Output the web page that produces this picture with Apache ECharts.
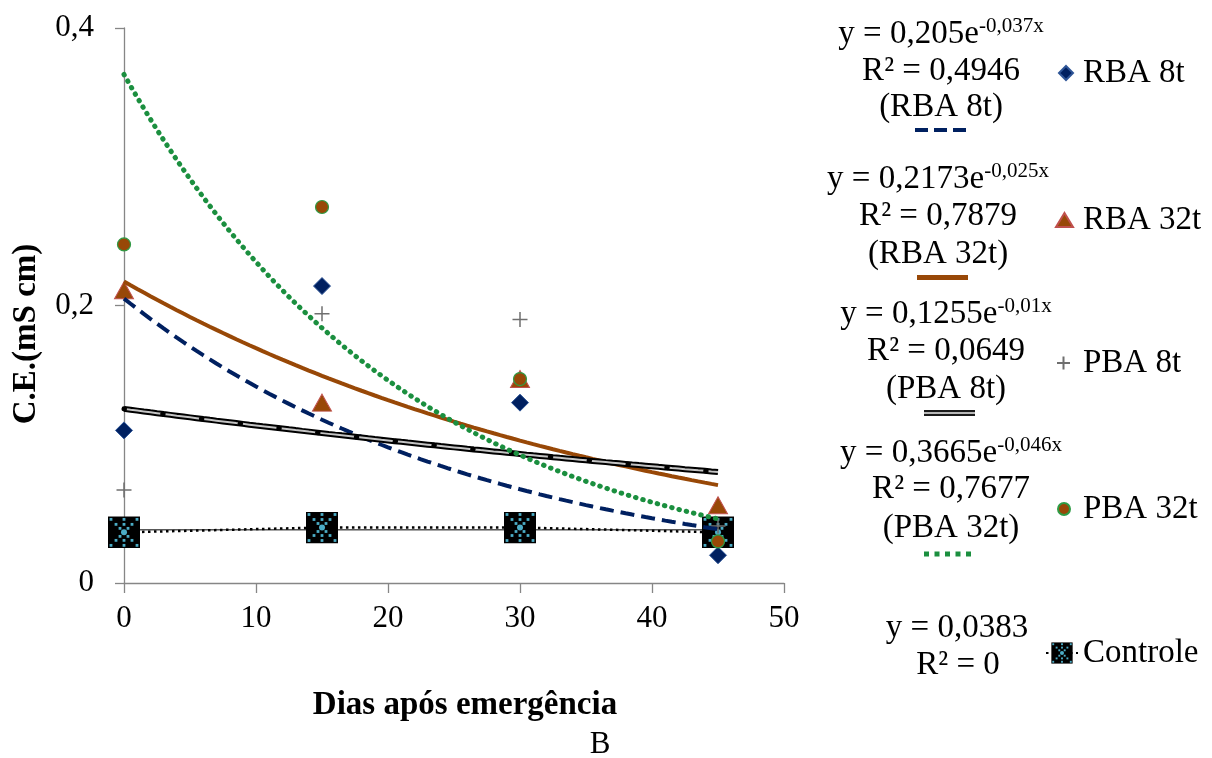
<!DOCTYPE html>
<html>
<head>
<meta charset="utf-8">
<script src="https://cdn.jsdelivr.net/npm/echarts@6/dist/echarts.min.js"></script>
<style>
  html, body { margin: 0; padding: 0; background: #ffffff; }
  #chart { width: 1212px; height: 758px; }
</style>
</head>
<body>
<div id="chart"></div>
<script>
// Sampling days (x) and measured electrical conductivity (mS cm) per treatment
const days = [0, 15, 30, 45];
const rba8t = [0.110, 0.214, 0.130, 0.020];
const rba32t = [0.211, 0.130, 0.147, 0.056];
const pba8t = [0.067, 0.194, 0.190, 0.041];
const pba32t = [0.244, 0.271, 0.147, 0.030];
const controle = [0.0365, 0.040, 0.040, 0.0365];

const treatmentNames = ['RBA 8t', 'RBA 32t', 'PBA 8t', 'PBA 32t'];
const controleName = 'Controle';

// Exponential trend y = a·e^(b·x) fitted for each treatment
const trendA = [0.205, 0.2173, 0.1255, 0.3665];
const trendB = [-0.037, -0.025, -0.01, -0.046];
const trendR2 = ['0,4946', '0,7879', '0,0649', '0,7677'];
// Constant trend for the control
const controleMean = ['0,0383', 0.0383];
const controleR2 = '0';

// Axis ranges: [min, max, step]
const xRange = [0, 50, 10];
const yRange = [0, 0.4, 0.2];

const xTitle = 'Dias após emergência';
const yTitle = 'C.E.(mS cm)';
const panelTag = 'B';

const SERIF = '"Liberation Serif", "Times New Roman", serif';

const comma = v => String(v).replace('.', ',');
const pairs = ys => days.map((d, i) => [d, ys[i]]);

function expCurve(a, b) {
  const pts = [];
  const x0 = days[0], x1 = days[days.length - 1];
  for (let x = x0; x <= x1 + 1e-9; x += 0.5) pts.push([x, a * Math.exp(b * x)]);
  return pts;
}

// Black square marker with a cyan dotted asterisk, used for the control points
function controleSymbol() {
  const dots = [[3,3],[29,3],[3,29],[29,29],[8,8],[24,8],[8,24],[24,24],[12,12],[20,12],[12,20],[20,20],
                [16,3],[16,8],[16,24],[16,29]];
  let s = '<svg xmlns="http://www.w3.org/2000/svg" width="32" height="32" viewBox="0 0 32 32">' +
          '<rect x="0" y="0" width="32" height="32" fill="#000000"/>';
  dots.forEach(([x, y]) => {
    s += '<rect x="' + (x - 1.4) + '" y="' + (y - 1.4) + '" width="2.8" height="2.8" fill="#4bacc6"/>';
  });
  s += '<circle cx="16" cy="16" r="3" fill="#4bacc6"/></svg>';
  return 'image://data:image/svg+xml;charset=utf-8,' + encodeURIComponent(s);
}

const plusPath = 'path://M0,6L12,6M6,0L6,12';

const markerStyles = [
  { symbol: 'diamond', symbolSize: 17, itemStyle: { color: '#002060', borderColor: '#2e5597', borderWidth: 1, opacity: 1 } },
  { symbol: 'triangle', symbolSize: [19, 17], itemStyle: { color: '#984807', borderColor: '#c0504d', borderWidth: 1, opacity: 1 } },
  { symbol: plusPath, symbolSize: 15, itemStyle: { color: 'rgba(0,0,0,0)', borderColor: '#6f6f6f', borderWidth: 1.5, opacity: 1 } },
  { symbol: 'circle', symbolSize: 13, itemStyle: { color: '#984807', borderColor: '#2e9b45', borderWidth: 1.2, opacity: 1 } }
];
const treatmentData = [rba8t, rba32t, pba8t, pba32t];

const series = [];

// Control: dotted connecting line plus its flat trend
series.push({
  name: controleName + ' trend', type: 'line', z: 1, silent: true,
  data: [[days[0], controleMean[1]], [days[days.length - 1], controleMean[1]]],
  symbol: 'none', lineStyle: { color: '#000000', width: 1 }
});
series.push({
  name: controleName, type: 'line', z: 2,
  data: pairs(controle),
  symbol: controleSymbol(), symbolSize: 32, showAllSymbol: true,
  itemStyle: { color: '#000000', opacity: 1 },
  lineStyle: { color: '#000000', width: 2.5, type: [2.5, 3.5] }
});

// Treatment markers
treatmentNames.forEach((name, i) => {
  series.push(Object.assign({
    name, type: 'scatter', z: 3, data: pairs(treatmentData[i])
  }, markerStyles[i]));
});

// Trend curves
const trendLine = (i, lineStyle, z) => ({
  name: treatmentNames[i] + ' trend', type: 'line', z: z || 4, silent: true,
  data: expCurve(trendA[i], trendB[i]), symbol: 'none', showSymbol: false,
  lineStyle
});
series.push(trendLine(0, { color: '#002060', width: 4, type: [14, 7] }));
series.push(trendLine(1, { color: '#984807', width: 4 }));
series.push(trendLine(2, { color: '#000000', width: 6 }, 4));
series.push(trendLine(2, { color: '#c4c4c4', width: 2 }, 5));
series.push(trendLine(2, { color: '#000000', width: 5, type: [0.5, 38.5], cap: 'round' }, 5));
series.push(trendLine(3, { color: '#1b8f3f', width: 5, type: [0.5, 7], cap: 'round' }, 6));

// One legend entry per series, placed beside its equation block
const legendSlots = [
  { name: treatmentNames[0], left: 1058, cy: 73, w: 14, h: 14, gap: 5 },
  { name: treatmentNames[1], left: 1055, cy: 220, w: 17, h: 14, gap: 5 },
  { name: treatmentNames[2], left: 1056, cy: 363, w: 13, h: 13, gap: 8 },
  { name: treatmentNames[3], left: 1057, cy: 509, w: 12, h: 12, gap: 8 },
  { name: controleName, left: 1045, cy: 653, w: 32, h: 27, gap: 0 }
];
const legends = legendSlots.map(s => ({
  data: [s.name], left: s.left, top: s.cy - 18, padding: 0,
  itemWidth: s.w, itemHeight: s.h, selectedMode: false,
  textStyle: { fontFamily: SERIF, fontSize: 33, color: '#000000', lineHeight: 36, padding: [0, 0, 0, s.gap] }
}));

// Equation blocks (text from the trend coefficients)
const eqBlocks = [
  { cx: 941, ys: [34, 71, 107] },
  { cx: 938, ys: [179, 216, 254] },
  { cx: 946, ys: [314, 351, 389] },
  { cx: 951, ys: [453, 489, 528] }
];
const graphics = [];
const richEq = {
  m: { fontFamily: SERIF, fontSize: 33, fill: '#000000', lineHeight: 36 },
  s: { fontFamily: SERIF, fontSize: 21, fill: '#000000', lineHeight: 21, verticalAlign: 'top' }
};
const plainText = (x, y, text, font) => ({
  type: 'text', x, y, silent: true,
  style: { text, font, fill: '#000000', align: 'center', verticalAlign: 'middle' }
});
eqBlocks.forEach((b, i) => {
  graphics.push({
    type: 'text', x: b.cx, y: b.ys[0], silent: true,
    style: {
      text: '{m|y = ' + comma(trendA[i]) + 'e}{s|' + comma(trendB[i]) + 'x}',
      rich: richEq, align: 'center', verticalAlign: 'middle'
    }
  });
  graphics.push(plainText(b.cx, b.ys[1], 'R² = ' + trendR2[i], '33px ' + SERIF));
  graphics.push(plainText(b.cx, b.ys[2], '(' + treatmentNames[i] + ')', '33px ' + SERIF));
});
graphics.push(plainText(957, 628, 'y = ' + controleMean[0], '33px ' + SERIF));
graphics.push(plainText(958, 665, 'R² = ' + controleR2, '33px ' + SERIF));

// Line samples under each equation
const seg = (x1, x2, y, style) => ({ type: 'line', silent: true, shape: { x1, y1: y, x2, y2: y }, style });
graphics.push(seg(915, 967, 130, { stroke: '#002060', lineWidth: 4, lineDash: [13, 6] }));
graphics.push(seg(917, 968, 277.5, { stroke: '#984807', lineWidth: 5 }));
graphics.push(seg(924, 975, 413, { stroke: '#1a1a1a', lineWidth: 6 }));
graphics.push(seg(924, 975, 413, { stroke: '#b8b8b8', lineWidth: 2 }));
graphics.push(seg(924, 975, 554, { stroke: '#1b8f3f', lineWidth: 5, lineDash: [5, 5.5] }));

// Axis titles and panel tag
graphics.push({
  type: 'text', x: 26, y: 334, rotation: Math.PI / 2, silent: true,
  style: { text: yTitle, font: 'bold 33px ' + SERIF, fill: '#000000', align: 'center', verticalAlign: 'middle' }
});
graphics.push(plainText(465, 705, xTitle, 'bold 33px ' + SERIF));
graphics.push(plainText(600, 745, panelTag, '31px ' + SERIF));

const axisColor = '#868686';
const option = {
  animation: false,
  backgroundColor: '#ffffff',
  grid: { left: 124, right: 428, top: 28, bottom: 175, containLabel: false },
  xAxis: {
    type: 'value', min: xRange[0], max: xRange[1], interval: xRange[2],
    axisLine: { show: true, onZero: false, lineStyle: { color: axisColor, width: 1.3 } },
    axisTick: { show: true, inside: false, length: 10, lineStyle: { color: axisColor, width: 1.3 } },
    axisLabel: { fontFamily: SERIF, fontSize: 31, color: '#000000', margin: 20 },
    splitLine: { show: false }
  },
  yAxis: {
    type: 'value', min: yRange[0], max: yRange[1], interval: yRange[2],
    axisLine: { show: true, onZero: false, lineStyle: { color: axisColor, width: 1.3 } },
    axisTick: { show: true, inside: false, length: 9, lineStyle: { color: axisColor, width: 1.3 } },
    axisLabel: { fontFamily: SERIF, fontSize: 31, color: '#000000', margin: 30, formatter: v => comma(v) },
    splitLine: { show: false }
  },
  legend: legends,
  graphic: graphics,
  series
};

const chart = echarts.init(document.getElementById('chart'), null, { renderer: 'canvas' });
chart.setOption(option);
</script>
</body>
</html>
